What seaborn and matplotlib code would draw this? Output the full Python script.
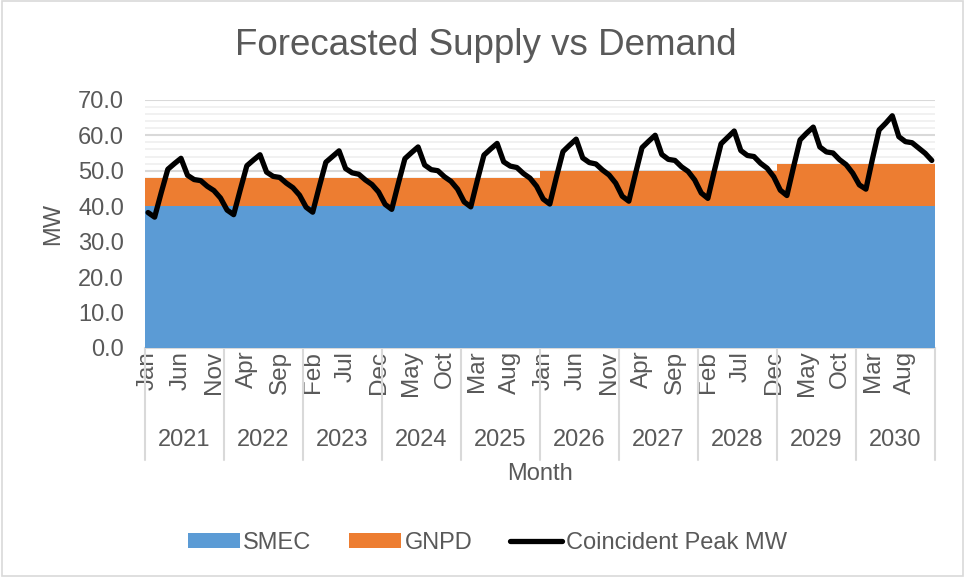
import numpy as np
import pandas as pd
import matplotlib
matplotlib.use("Agg")
import matplotlib.pyplot as plt
import matplotlib.transforms as mtransforms
from matplotlib.patches import Patch, Rectangle
from matplotlib.lines import Line2D
import seaborn as sns

# --- data ---
years = ['2021', '2022', '2023', '2024', '2025', '2026', '2027', '2028', '2029', '2030']
month_names = ['Jan', 'Feb', 'Mar', 'Apr', 'May', 'Jun',
               'Jul', 'Aug', 'Sep', 'Oct', 'Nov', 'Dec']

# supply, MW per year (constant within a year)
smec_by_year = [40, 40, 40, 40, 40, 40, 40, 40, 40, 40]
gnpd_by_year = [8, 8, 8, 8, 8, 10, 10, 10, 12, 12]

# coincident peak MW, Jan..Dec
peak_2021 = [38.2, 36.9, 43.8, 50.4, 52.0, 53.5, 48.7, 47.5, 47.2, 45.6, 44.4, 42.3]
peak_2022 = [38.9, 37.6, 44.6, 51.4, 53.0, 54.5, 49.6, 48.4, 48.1, 46.5, 45.2, 43.1]
peak_2023 = [39.7, 38.3, 45.5, 52.4, 54.0, 55.6, 50.6, 49.4, 49.0, 47.4, 46.1, 44.0]
peak_2024 = [40.5, 39.1, 46.4, 53.4, 55.1, 56.7, 51.6, 50.3, 50.0, 48.3, 47.0, 44.8]
peak_2025 = [41.2, 39.8, 47.3, 54.4, 56.1, 57.7, 52.5, 51.3, 50.9, 49.2, 47.9, 45.6]
peak_2026 = [42.0, 40.6, 48.2, 55.4, 57.2, 58.9, 53.6, 52.3, 51.9, 50.2, 48.8, 46.5]
peak_2027 = [42.8, 41.4, 49.1, 56.5, 58.3, 60.0, 54.6, 53.2, 52.9, 51.1, 49.8, 47.4]
peak_2028 = [43.7, 42.2, 50.1, 57.6, 59.4, 61.2, 55.7, 54.3, 54.0, 52.1, 50.7, 48.3]
peak_2029 = [44.5, 43.0, 51.0, 58.7, 60.6, 62.3, 56.7, 55.3, 55.0, 53.1, 51.7, 49.3]
peak_2030 = [46.0, 44.8, 53.4, 61.5, 63.4, 65.5, 59.6, 58.2, 57.9, 56.4, 54.9, 52.9]

peak_all = (peak_2021 + peak_2022 + peak_2023 + peak_2024 + peak_2025
            + peak_2026 + peak_2027 + peak_2028 + peak_2029 + peak_2030)

n_months = len(peak_all)
df = pd.DataFrame({
    'idx': np.arange(n_months),
    'year': np.repeat(years, 12),
    'month': month_names * len(years),
    'smec': np.repeat(smec_by_year, 12),
    'gnpd': np.repeat(gnpd_by_year, 12),
    'peak': peak_all,
})
df['total'] = df['smec'] + df['gnpd']

# --- style ---
blue = '#5B9BD5'
orange = '#ED7D31'
text_col = '#595959'
grid_major = '#D9D9D9'
grid_minor = '#F0F0F0'

sns.set_theme(style='white')
plt.rcParams['font.family'] = ['Liberation Sans', 'DejaVu Sans']

fig = plt.figure(figsize=(9.65, 5.77), dpi=100)
ax = fig.add_axes([0.150, 0.397, 0.819, 0.430])

# stacked columns with no gap: draw the total in orange, then SMEC over it
sns.barplot(data=df, x='idx', y='total', color=orange, saturation=1, width=1.0,
            linewidth=0, errorbar=None, ax=ax, zorder=2)
sns.barplot(data=df, x='idx', y='smec', color=blue, saturation=1, width=1.0,
            linewidth=0, errorbar=None, ax=ax, zorder=3)
sns.lineplot(data=df, x='idx', y='peak', color='black', lw=3.8, ax=ax, zorder=4,
             solid_joinstyle='round', solid_capstyle='round')

ax.set_xlim(-0.5, n_months - 0.5)
ax.set_ylim(0, 70)

# y axis
ax.set_yticks(np.arange(0, 71, 10))
ax.set_yticklabels([f'{v:.1f}' for v in np.arange(0, 71, 10)], fontsize=17, color=text_col)
ax.set_yticks(np.arange(0, 71, 2), minor=True)
ax.yaxis.grid(True, which='minor', color=grid_minor, lw=1.3)
ax.yaxis.grid(True, which='major', color=grid_major, lw=1.5)
ax.set_axisbelow(True)
ax.tick_params(axis='y', length=0, pad=15)
ax.tick_params(axis='y', which='minor', length=0)
ax.set_ylabel('MW', fontsize=17, color=text_col)
ax.yaxis.set_label_coords(-0.102, 0.5)

# month ticks every 5 months
tick_pos = df['idx'].values[::5]
ax.set_xticks(tick_pos)
ax.set_xticklabels(df['month'].values[::5], rotation=90, fontsize=17.5, color=text_col)
ax.tick_params(axis='x', length=0, pad=2)
ax.set_xlabel('')

for s in ['top', 'right', 'left']:
    ax.spines[s].set_visible(False)
ax.spines['bottom'].set_color(grid_major)
ax.spines['bottom'].set_linewidth(1.5)

# year group labels and dividers
trans = mtransforms.blended_transform_factory(ax.transData, ax.transAxes)
for k, yr in enumerate(years):
    ax.text(12 * k + 5.5, -0.37, yr, transform=trans, ha='center', va='center',
            fontsize=17, color=text_col)
for k in range(len(years) + 1):
    ax.plot([12 * k - 0.5, 12 * k - 0.5], [0, -0.452], transform=trans,
            color=grid_major, lw=1.5, clip_on=False)

ax.text(0.5, -0.51, 'Month', transform=ax.transAxes, ha='center', va='center',
        fontsize=17, color=text_col)

fig.text(0.503, 0.922, 'Forecasted Supply vs Demand', ha='center', va='center',
         fontsize=26.5, color=text_col)

handles = [Patch(facecolor=blue, edgecolor='none'),
           Patch(facecolor=orange, edgecolor='none'),
           Line2D([], [], color='black', lw=3.8, solid_capstyle='round')]
fig.legend(handles, ['SMEC', 'GNPD', 'Coincident Peak MW'], loc='center',
           bbox_to_anchor=(0.505, 0.059), ncol=3, frameon=False, fontsize=17,
           labelcolor=text_col, handlelength=2.2, handletextpad=0.15,
           columnspacing=1.6, handleheight=0.55)

# thin chart-area border
fig.patches.append(Rectangle((0.002, 0.002), 0.996, 0.996, transform=fig.transFigure,
                             fill=False, edgecolor=grid_major, lw=1.2))

fig.savefig('out.png', dpi=100)
